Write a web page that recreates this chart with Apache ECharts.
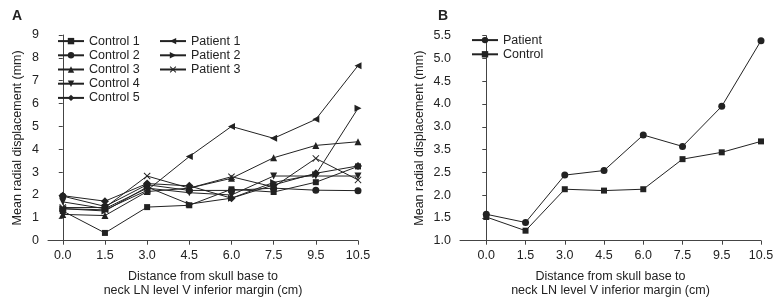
<!DOCTYPE html>
<html>
<head>
<meta charset="utf-8">
<script src="https://cdn.jsdelivr.net/npm/echarts@6/dist/echarts.min.js"></script>
<style>html,body{margin:0;padding:0;background:#fff}#c{width:784px;height:303px}</style>
</head>
<body>
<div id="c"></div>
<script>
// ---- Data ----
const xLabels = ["0.0", "1.5", "3.0", "4.5", "6.0", "7.5", "9.5", "10.5"];

// Panel A
const control1 = [1.30, 0.34, 1.47, 1.55, 2.25, 2.13, 2.56, 3.25];
const control2 = [1.95, 1.50, 2.45, 2.20, 2.20, 2.30, 2.21, 2.19];
const control3 = [1.15, 1.10, 2.15, 2.30, 2.73, 3.63, 4.17, 4.33];
const control4 = [1.70, 1.40, 2.30, 2.10, 2.00, 2.83, 2.83, 2.83];
const control5 = [1.97, 1.73, 2.50, 2.40, 1.86, 2.44, 2.95, 3.27];
const patient1 = [1.40, 1.35, 2.20, 3.68, 5.00, 4.48, 5.31, 7.66];
const patient2 = [1.40, 1.30, 2.35, 1.60, 1.86, 2.55, 2.90, 5.79];
const patient3 = [1.45, 1.45, 2.83, 2.30, 2.80, 2.35, 3.60, 2.66];
const yTicksA = ["0", "1", "2", "3", "4", "5", "6", "7", "8", "9"];

// Panel B
const patientMean = [1.58, 1.40, 2.44, 2.54, 3.32, 3.07, 3.95, 5.39];
const controlMean = [1.52, 1.22, 2.13, 2.10, 2.13, 2.79, 2.94, 3.18];
// tick labels as printed in the original figure (3.5 and 3.0 appear swapped)
const yTicksB = ["1.0", "1.5", "2.0", "2.5", "3.5", "3.0", "4.0", "4.5", "5.0", "5.5"];

// ---- Chart ----
const FONT = "Liberation Sans, Arial, sans-serif";
const INK = "#222";
const AX = "#444";
const xIdx = xLabels.map((_, i) => i);
const pairs = arr => arr.map((v, i) => [i, v]);
const crossPath = 'path://M0,1L1,0L5,4L9,0L10,1L6,5L10,9L9,10L5,6L1,10L0,9L4,5Z';

function xAxisCfg(gridIndex, min) {
  return {
    type: 'value', gridIndex, min, max: 7,
    axisLine: {show: true, lineStyle: {color: AX, width: 1}},
    axisTick: {show: true, length: 4, customValues: xIdx, lineStyle: {color: AX}},
    axisLabel: {customValues: xIdx, formatter: v => xLabels[Math.round(v)], color: INK,
                fontFamily: FONT, fontSize: 12.5, margin: 8},
    splitLine: {show: false},
    name: "Distance from skull base to\nneck LN level V inferior margin (cm)",
    nameLocation: 'middle', nameGap: 29,
    nameTextStyle: {color: INK, fontFamily: FONT, fontSize: 12.5, lineHeight: 14}
  };
}
function yAxisCfg(gridIndex, min, max, interval, labels) {
  return {
    type: 'value', gridIndex, min, max, interval,
    axisLine: {show: true, lineStyle: {color: AX, width: 1}},
    axisTick: {show: true, length: 4, lineStyle: {color: AX}},
    axisLabel: {formatter: v => labels[Math.round((v - min) / interval)], color: INK,
                fontFamily: FONT, fontSize: 12.5, margin: 9},
    splitLine: {show: false},
    name: "Mean radial displacement (mm)", nameLocation: 'middle',
    nameGap: gridIndex === 0 ? 24 : 34,
    nameTextStyle: {color: INK, fontFamily: FONT, fontSize: 12.5}
  };
}
function line(name, data, symbol, rot, xi, size) {
  return {
    name, type: 'line', data: pairs(data), xAxisIndex: xi, yAxisIndex: xi,
    symbol, symbolSize: size || 6, symbolRotate: rot || 0, showSymbol: true,
    lineStyle: {color: INK, width: 1}, itemStyle: {color: INK, borderWidth: 0},
    emphasis: {disabled: true}, animation: false, z: 3
  };
}
const legendText = {color: INK, fontFamily: FONT, fontSize: 12.5, lineHeight: 14.2};

const chart = echarts.init(document.getElementById('c'), null, {renderer: 'canvas'});
chart.setOption({
  animation: false,
  backgroundColor: '#fff',
  textStyle: {fontFamily: FONT},
  title: [
    {text: 'A', left: 7, top: 4, textStyle: {fontSize: 14, fontWeight: 'bold', color: INK, fontFamily: FONT}},
    {text: 'B', left: 433, top: 4, textStyle: {fontSize: 14, fontWeight: 'bold', color: INK, fontFamily: FONT}}
  ],
  grid: [
    {left: 48, top: 35, width: 310, height: 205.7},
    {left: 460, top: 35.7, width: 301, height: 205}
  ],
  xAxis: [xAxisCfg(0, -0.35), xAxisCfg(1, -0.67)],
  yAxis: [yAxisCfg(0, 0, 9, 1, yTicksA), yAxisCfg(1, 1, 5.5, 0.5, yTicksB)],
  legend: [
    {data: ['Control 1', 'Control 2', 'Control 3', 'Control 4', 'Control 5'],
     orient: 'vertical', left: 57, top: 34, padding: 0, itemWidth: 26, itemHeight: 8, itemGap: 0,
     textStyle: legendText},
    {data: ['Patient 1', 'Patient 2', 'Patient 3'],
     orient: 'vertical', left: 159, top: 34, padding: 0, itemWidth: 26, itemHeight: 8, itemGap: 0,
     textStyle: legendText},
    {data: ['Patient', 'Control'],
     orient: 'vertical', left: 471, top: 33, padding: 0, itemWidth: 26, itemHeight: 8, itemGap: 0,
     textStyle: legendText}
  ],
  series: [
    line('Control 1', control1, 'rect', 0, 0, 6),
    line('Control 2', control2, 'circle', 0, 0, 7),
    line('Control 3', control3, 'triangle', 0, 0, 7),
    line('Control 4', control4, 'triangle', 180, 0, 7),
    line('Control 5', control5, 'diamond', 0, 0, 8),
    line('Patient 1', patient1, 'triangle', 90, 0, 7),
    line('Patient 2', patient2, 'triangle', -90, 0, 7),
    line('Patient 3', patient3, crossPath, 0, 0, 7),
    line('Patient', patientMean, 'circle', 0, 1, 7),
    line('Control', controlMean, 'rect', 0, 1, 6)
  ]
});
</script>
</body>
</html>
